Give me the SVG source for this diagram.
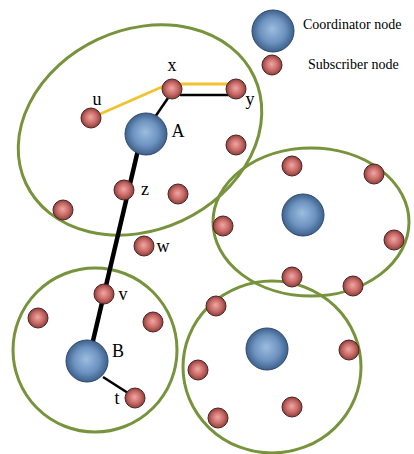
<svg xmlns="http://www.w3.org/2000/svg" width="414" height="454" viewBox="0 0 414 454">
<defs>
<radialGradient id="gc" cx="50%" cy="50%" r="50%" fx="48%" fy="45%">
<stop offset="0" stop-color="#9dbde0"/>
<stop offset="0.6" stop-color="#6d93c0"/>
<stop offset="1" stop-color="#3e618c"/>
</radialGradient>
<radialGradient id="gs" cx="50%" cy="50%" r="50%" fx="48%" fy="45%">
<stop offset="0" stop-color="#f0a8a4"/>
<stop offset="0.6" stop-color="#c86a66"/>
<stop offset="1" stop-color="#8c3f3d"/>
</radialGradient>
<style>
.cell{fill:none;stroke:#77933c;stroke-width:3}
.coord{fill:url(#gc);stroke:#2f4a6c;stroke-width:1}
.sub{fill:url(#gs);stroke:#4e2422;stroke-width:1}
.lbl{font-family:"Liberation Serif",serif;font-size:18px;fill:#000}
.leg{font-family:"Liberation Serif",serif;font-size:14px;fill:#000}
.yl{stroke:#f2c330;stroke-width:3;fill:none}
.bl{stroke:#000;stroke-width:2.5;fill:none}
.bt{stroke:#000;stroke-width:4.5;fill:none}
</style>
</defs>
<rect width="414" height="454" fill="#fff"/>
<g id="cells">
<ellipse id="cellA" class="cell" cx="140" cy="130" rx="126" ry="100" transform="rotate(-25 140 130)"/>
<ellipse id="cellC" class="cell" cx="311" cy="222" rx="98" ry="74"/>
<ellipse id="cellB" class="cell" cx="95" cy="350" rx="82" ry="82"/>
<ellipse id="cellD" class="cell" cx="272" cy="367" rx="89" ry="86"/>
</g>
<g id="connectors">
<line class="yl" x1="91" y1="118" x2="164" y2="86"/>
<line class="yl" x1="180" y1="84" x2="230" y2="84"/>
<line class="bl" x1="180" y1="95" x2="230" y2="95"/>
<line class="bl" x1="155" y1="117" x2="168" y2="98"/>
<line class="bt" x1="138" y1="150" x2="92" y2="345"/>
<line class="bl" x1="103" y1="377" x2="128" y2="393"/>
</g>
<g id="legend">
<circle class="coord" cx="273" cy="31" r="21"/>
<text class="leg" x="303" y="29">Coordinator node</text>
<circle class="sub" cx="272" cy="65" r="10"/>
<text class="leg" x="308" y="69">Subscriber node</text>
</g>
<g id="nodesA">
<g id="node-x"><circle class="sub" cx="172" cy="89" r="10"/><text class="lbl" x="172" y="71" text-anchor="middle">x</text></g>
<g id="node-y"><circle class="sub" cx="236" cy="89" r="10"/><text class="lbl" x="250" y="105" text-anchor="middle">y</text></g>
<g id="node-u"><circle class="sub" cx="91" cy="118" r="10"/><text class="lbl" x="97" y="105" text-anchor="middle">u</text></g>
<g id="node-A"><circle class="coord" cx="146" cy="134" r="21"/><text class="lbl" x="178" y="137" text-anchor="middle">A</text></g>
<g id="nodeA1"><circle class="sub" cx="236" cy="145" r="10"/></g>
<g id="node-z"><circle class="sub" cx="124" cy="190" r="10"/><text class="lbl" x="145" y="195" text-anchor="middle">z</text></g>
<g id="nodeA2"><circle class="sub" cx="178" cy="194" r="10"/></g>
<g id="nodeA3"><circle class="sub" cx="63" cy="210" r="10"/></g>
</g>
<g id="nodesC">
<g id="coordC"><circle class="coord" cx="303" cy="215" r="21"/></g>
<g id="nodeC1"><circle class="sub" cx="292" cy="166" r="10"/></g>
<g id="nodeC2"><circle class="sub" cx="374" cy="174" r="10"/></g>
<g id="nodeC3"><circle class="sub" cx="223" cy="226" r="10"/></g>
<g id="nodeC4"><circle class="sub" cx="394" cy="240" r="10"/></g>
<g id="nodeC5"><circle class="sub" cx="292" cy="277" r="10"/></g>
<g id="nodeC6"><circle class="sub" cx="353" cy="286" r="10"/></g>
</g>
<g id="nodesB">
<g id="node-w"><circle class="sub" cx="144" cy="246" r="10"/><text class="lbl" x="163" y="252" text-anchor="middle">w</text></g>
<g id="node-v"><circle class="sub" cx="104" cy="294" r="10"/><text class="lbl" x="123" y="300" text-anchor="middle">v</text></g>
<g id="nodeB1"><circle class="sub" cx="38" cy="318" r="10"/></g>
<g id="nodeB2"><circle class="sub" cx="153" cy="322" r="10"/></g>
<g id="node-B"><circle class="coord" cx="87" cy="361" r="21"/><text class="lbl" x="118" y="357" text-anchor="middle">B</text></g>
<g id="node-t"><circle class="sub" cx="135" cy="398" r="10"/><text class="lbl" x="117" y="404" text-anchor="middle">t</text></g>
</g>
<g id="nodesD">
<g id="coordD"><circle class="coord" cx="267" cy="349" r="21"/></g>
<g id="nodeD1"><circle class="sub" cx="216" cy="306" r="10"/></g>
<g id="nodeD2"><circle class="sub" cx="349" cy="350" r="10"/></g>
<g id="nodeD3"><circle class="sub" cx="198" cy="370" r="10"/></g>
<g id="nodeD4"><circle class="sub" cx="292" cy="407" r="10"/></g>
<g id="nodeD5"><circle class="sub" cx="218" cy="418" r="10"/></g>
</g>
</svg>
